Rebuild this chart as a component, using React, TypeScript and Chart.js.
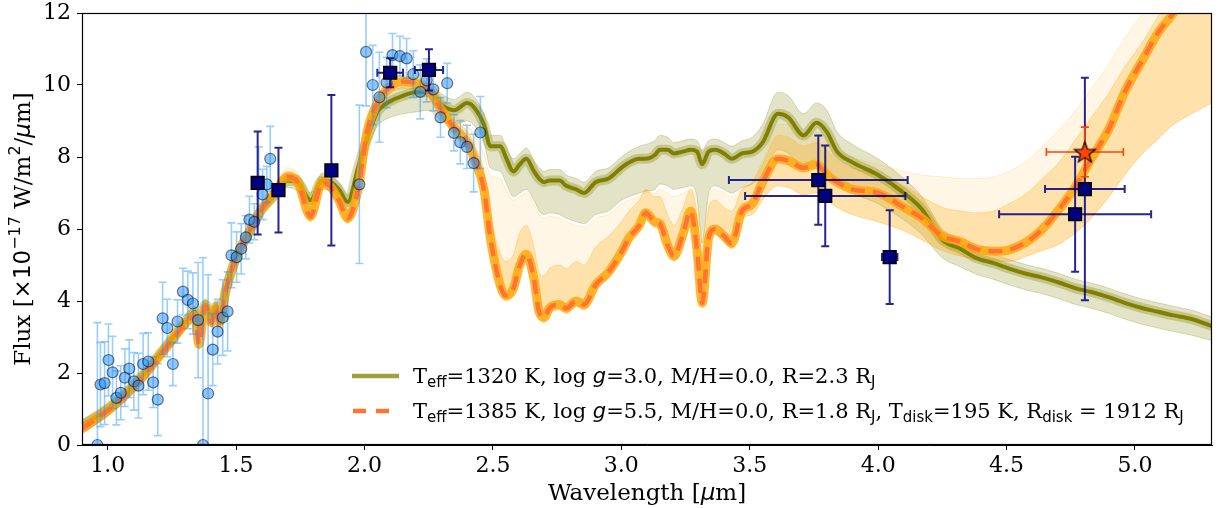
import React, { useEffect, useRef } from 'react';
import { Chart, registerables } from 'chart.js';

Chart.register(...registerables);

// ---- model spectra (wavelength grid in micron) ----
const wavelength = [
  0.90, 0.95, 1.00, 1.05, 1.10, 1.15, 1.20, 1.25, 1.30, 1.34,
  1.355, 1.38, 1.405, 1.42, 1.435, 1.46, 1.50, 1.55, 1.60, 1.65,
  1.70, 1.74, 1.79, 1.835, 1.87, 1.90, 1.935, 1.975, 2.01, 2.05,
  2.10, 2.15, 2.20, 2.25, 2.30, 2.35, 2.40, 2.43, 2.465, 2.49,
  2.53, 2.55, 2.58, 2.605, 2.63, 2.66, 2.68, 2.70, 2.72, 2.76,
  2.785, 2.825, 2.855, 2.90, 2.95, 3.00, 3.03, 3.07, 3.095, 3.13,
  3.15, 3.18, 3.205, 3.24, 3.27, 3.295, 3.315, 3.34, 3.365, 3.40,
  3.43, 3.47, 3.51, 3.55, 3.61, 3.65, 3.71, 3.76, 3.80, 3.84,
  3.90, 4.00, 4.10, 4.17, 4.25, 4.32, 4.38, 4.45, 4.51, 4.58,
  4.64, 4.71, 4.77, 4.83, 4.90, 4.96, 5.03, 5.09, 5.15, 5.22,
  5.30,
];

// Teff=1320 K best fit (olive)
const oliveModel = [
  0.55, 0.75, 1.00, 1.30, 1.65, 2.05, 2.50, 2.95, 3.40, 3.70,
  3.30, 3.90, 3.55, 3.85, 3.55, 4.30, 5.20, 5.90, 6.55, 6.95,
  7.35, 7.30, 6.80, 7.35, 7.30, 7.10, 6.75, 7.70, 8.50, 9.25,
  9.55, 9.70, 9.80, 9.80, 9.45, 9.30, 9.50, 9.35, 8.90, 8.30,
  8.30, 8.00, 7.60, 7.80, 7.95, 7.60, 7.40, 7.30, 7.35, 7.35,
  7.20, 7.10, 7.00, 7.30, 7.40, 7.70, 7.85, 7.95, 7.95, 8.05,
  8.20, 8.20, 8.10, 8.15, 8.20, 8.15, 7.80, 8.15, 8.20, 8.10,
  7.95, 8.10, 8.15, 8.40, 9.20, 9.10, 8.60, 8.95, 8.70, 8.15,
  7.85, 7.50, 7.00, 6.55, 5.70, 5.45, 5.20, 5.05, 4.90, 4.75,
  4.65, 4.50, 4.35, 4.25, 4.10, 3.95, 3.80, 3.70, 3.60, 3.50,
  3.30,
];
const oliveHi = [
  0.70, 0.90, 1.15, 1.45, 1.80, 2.20, 2.65, 3.10, 3.55, 3.85,
  3.55, 4.05, 3.75, 4.00, 3.75, 4.45, 5.35, 6.05, 6.70, 7.10,
  7.50, 7.50, 7.00, 7.55, 7.50, 7.30, 6.95, 7.90, 8.70, 9.45,
  9.80, 9.95, 10.05, 10.05, 9.75, 9.60, 9.80, 9.65, 9.20, 8.60,
  8.60, 8.30, 7.95, 8.10, 8.25, 7.90, 7.70, 7.60, 7.65, 7.65,
  7.50, 7.40, 7.30, 7.60, 7.70, 8.00, 8.15, 8.30, 8.35, 8.45,
  8.60, 8.55, 8.40, 8.45, 8.50, 8.45, 8.20, 8.45, 8.50, 8.40,
  8.30, 8.45, 8.55, 8.90, 9.80, 9.70, 9.20, 9.50, 9.30, 8.70,
  8.35, 7.95, 7.40, 6.90, 6.00, 5.70, 5.45, 5.30, 5.15, 5.00,
  4.90, 4.75, 4.60, 4.50, 4.35, 4.20, 4.05, 3.95, 3.85, 3.75,
  3.55,
];
const oliveLo = [
  0.35, 0.55, 0.80, 1.10, 1.45, 1.85, 2.30, 2.75, 3.20, 3.45,
  3.00, 3.70, 3.30, 3.65, 3.30, 4.10, 5.00, 5.70, 6.35, 6.75,
  7.15, 7.05, 6.55, 7.10, 7.05, 6.85, 6.50, 7.40, 8.20, 8.85,
  9.10, 9.20, 9.25, 9.30, 9.00, 8.90, 9.00, 8.85, 8.40, 7.70,
  7.60, 7.30, 6.90, 7.00, 7.10, 6.80, 6.50, 6.40, 6.45, 6.40,
  6.30, 6.20, 6.15, 6.40, 6.50, 6.80, 6.90, 7.00, 7.05, 7.10,
  7.25, 7.20, 7.10, 7.15, 7.20, 6.90, 5.60, 7.00, 7.20, 7.10,
  7.00, 7.15, 7.25, 7.50, 8.20, 8.10, 7.70, 7.95, 7.70, 7.30,
  7.00, 6.70, 6.25, 5.85, 5.20, 4.95, 4.75, 4.60, 4.45, 4.30,
  4.20, 4.05, 3.90, 3.80, 3.65, 3.50, 3.35, 3.25, 3.15, 3.05,
  2.90,
];

// Teff=1385 K + disk best fit (orange dashed)
const diskModel = [
  0.45, 0.70, 0.95, 1.25, 1.60, 2.00, 2.45, 2.90, 3.35, 3.60,
  2.80, 3.85, 3.40, 3.80, 3.40, 4.30, 5.20, 5.90, 6.55, 7.00,
  7.45, 7.30, 6.35, 7.30, 7.15, 6.80, 6.30, 7.10, 8.70, 9.50,
  9.95, 10.10, 10.05, 9.85, 9.30, 8.80, 8.40, 7.90, 7.10, 5.75,
  4.40, 4.15, 4.35, 5.00, 5.30, 4.60, 3.70, 3.55, 3.80, 3.90,
  3.80, 4.00, 3.90, 4.45, 4.80, 5.35, 5.75, 6.10, 6.45, 6.20,
  6.15, 5.55, 5.25, 5.85, 6.50, 5.40, 3.95, 5.75, 6.00, 5.80,
  5.60, 6.50, 6.70, 7.30, 7.95, 7.90, 7.70, 7.80, 7.50, 7.30,
  7.10, 7.00, 6.60, 6.30, 5.80, 5.65, 5.45, 5.38, 5.42, 5.65,
  6.00, 6.60, 7.20, 7.95, 8.80, 9.80, 10.70, 11.45, 12.00, 12.80,
  13.60,
];
const diskLo = [
  0.30, 0.55, 0.80, 1.10, 1.45, 1.85, 2.30, 2.75, 3.20, 3.45,
  2.65, 3.70, 3.25, 3.65, 3.25, 4.15, 5.05, 5.75, 6.40, 6.85,
  7.30, 7.15, 6.20, 7.15, 7.00, 6.65, 6.15, 6.95, 8.50, 9.30,
  9.75, 9.90, 9.85, 9.65, 9.10, 8.60, 8.20, 7.70, 6.90, 5.55,
  4.25, 4.00, 4.20, 4.85, 5.15, 4.45, 3.55, 3.40, 3.65, 3.75,
  3.65, 3.85, 3.75, 4.30, 4.65, 5.20, 5.60, 5.95, 6.30, 6.05,
  6.00, 5.40, 5.10, 5.70, 6.35, 5.25, 3.80, 5.60, 5.85, 5.65,
  5.45, 6.30, 6.40, 6.80, 7.20, 7.15, 6.95, 7.00, 6.80, 6.60,
  6.40, 6.20, 5.95, 5.70, 5.40, 5.25, 5.15, 5.10, 5.10, 5.25,
  5.40, 5.60, 5.90, 6.30, 6.90, 7.50, 8.10, 8.50, 8.90, 9.20,
  9.50,
];
const diskMid = [
  0.60, 0.85, 1.10, 1.40, 1.75, 2.15, 2.60, 3.05, 3.50, 3.75,
  3.00, 4.00, 3.60, 3.95, 3.60, 4.45, 5.35, 6.05, 6.70, 7.15,
  7.60, 7.45, 6.55, 7.45, 7.30, 7.00, 6.50, 7.30, 8.90, 9.70,
  10.15, 10.25, 10.20, 10.05, 9.55, 9.05, 8.70, 8.30, 7.60, 6.40,
  5.30, 5.10, 5.30, 5.90, 6.10, 5.50, 4.80, 4.70, 4.90, 5.00,
  4.90, 5.10, 5.00, 5.50, 5.80, 6.20, 6.50, 6.80, 7.10, 6.90,
  6.90, 6.40, 6.10, 6.60, 7.10, 6.40, 5.00, 6.60, 6.80, 6.60,
  6.50, 7.10, 7.30, 7.80, 8.60, 8.55, 8.30, 8.40, 8.20, 7.90,
  7.70, 7.50, 7.20, 6.90, 6.60, 6.50, 6.45, 6.50, 6.70, 7.00,
  7.40, 7.90, 8.50, 9.10, 9.80, 10.50, 11.20, 11.90, 12.50, 13.20,
  14.00,
];
const diskHi = [
  0.70, 0.95, 1.20, 1.50, 1.85, 2.25, 2.70, 3.15, 3.60, 3.85,
  3.20, 4.10, 3.70, 4.05, 3.70, 4.55, 5.45, 6.15, 6.80, 7.25,
  7.70, 7.55, 6.70, 7.55, 7.40, 7.10, 6.65, 7.45, 9.00, 9.80,
  10.25, 10.35, 10.30, 10.15, 9.70, 9.20, 8.90, 8.60, 8.10, 7.50,
  7.40, 7.10, 6.80, 6.90, 7.00, 6.70, 6.40, 6.30, 6.35, 6.30,
  6.20, 6.10, 6.05, 6.30, 6.40, 6.70, 6.80, 6.90, 7.00, 7.00,
  7.10, 7.00, 6.90, 7.00, 7.10, 6.80, 5.60, 6.90, 7.10, 7.00,
  6.90, 7.10, 7.30, 7.90, 8.90, 8.90, 8.50, 8.70, 8.50, 8.20,
  8.00, 7.80, 7.60, 7.50, 7.45, 7.40, 7.40, 7.45, 7.60, 7.90,
  8.30, 8.80, 9.30, 9.90, 10.60, 11.30, 12.00, 12.60, 13.20, 13.80,
  14.50,
];

// ---- observed spectrum ----
const specWl = [
  0.960, 0.972, 0.988, 1.003, 1.019, 1.034, 1.051, 1.067, 1.084, 1.102,
  1.120, 1.138, 1.158, 1.177, 1.195, 1.214, 1.232, 1.254, 1.272, 1.293,
  1.312, 1.332, 1.352, 1.371, 1.391, 1.409, 1.428, 1.448, 1.467, 1.482,
  1.502, 1.520, 1.538, 1.552, 1.571, 1.588, 1.603, 1.620, 1.633, 1.980,
  2.006, 2.032, 2.058, 2.086, 2.109, 2.138, 2.164, 2.190, 2.217, 2.242,
  2.268, 2.296, 2.322, 2.348, 2.373, 2.399, 2.425, 2.451,
];
const specFlux = [
  0.00, 1.68, 1.72, 2.36, 2.02, 1.31, 1.45, 1.87, 2.12, 1.77,
  1.65, 2.25, 2.32, 1.74, 1.26, 3.52, 3.25, 2.25, 3.43, 4.26,
  4.03, 3.93, 3.47, 0.00, 1.43, 2.65, 3.15, 3.54, 3.71, 5.27,
  5.22, 5.45, 5.77, 6.26, 6.20, 7.31, 6.96, 7.24, 7.95, 7.24,
  10.92, 10.00, 9.66, 10.07, 10.83, 10.80, 10.74, 10.30, 9.81, 10.13,
  9.88, 9.10, 10.05, 8.67, 8.41, 8.28, 7.83, 8.68,
];
const specErr = [
  3.40, 1.17, 1.15, 1.00, 1.00, 0.75, 0.75, 0.80, 0.80, 0.80,
  0.90, 0.85, 0.80, 0.70, 1.00, 1.00, 0.80, 0.60, 0.60, 0.65,
  0.80, 0.85, 1.60, 5.20, 3.30, 1.00, 0.90, 1.05, 1.10, 0.90,
  0.70, 0.70, 0.60, 0.65, 0.50, 0.97, 0.70, 0.50, 0.90, 2.20,
  1.50, 1.10, 1.25, 0.70, 0.60, 0.55, 0.55, 0.65, 0.75, 0.60,
  0.60, 0.55, 0.55, 0.50, 0.60, 0.60, 0.80, 1.00,
];

// ---- photometry ----
const photWl = [1.584, 1.665, 1.871, 2.100, 2.251, 3.767, 3.794, 4.045, 4.767, 4.805];
const photFlux = [7.28, 7.08, 7.63, 10.34, 10.42, 7.36, 6.92, 5.22, 6.41, 7.11];
const photErrY = [1.43, 1.18, 2.09, 0.40, 0.57, 1.24, 1.40, 1.30, 1.60, 3.09];
const photErrX = [0.015, 0.015, 0.015, 0.050, 0.055, 0.348, 0.312, 0.030, 0.296, 0.155];

const starWl = [4.805];
const starFlux = [8.14];
const starErrY = [0.69];
const starErrX = [0.15];

const xTicks = [1.0, 1.5, 2.0, 2.5, 3.0, 3.5, 4.0, 4.5, 5.0];
const yTicks = [0, 2, 4, 6, 8, 10, 12];

const SERIF = "'DejaVu Serif'";
const SANS = "'DejaVu Sans'";

type Seg = { t: string; f: string; dy?: number };

function drawRich(ctx: CanvasRenderingContext2D, segs: Seg[], x: number, y: number, measureOnly = false) {
  let cx = x;
  for (const s of segs) {
    ctx.font = s.f;
    if (!measureOnly) ctx.fillText(s.t, cx, y + (s.dy || 0));
    cx += ctx.measureText(s.t).width;
  }
  return cx - x;
}

function pts(xs: number[], ys: number[]) {
  return xs.map((x, i) => ({ x, y: ys[i] }));
}

function makeStar(size: number) {
  const c = document.createElement('canvas');
  c.width = size;
  c.height = size;
  const ctx = c.getContext('2d')!;
  const cx = size / 2, cy = size / 2 + 1;
  const R = size / 2 - 1.5, r = R * 0.42;
  ctx.beginPath();
  for (let i = 0; i < 10; i++) {
    const a = -Math.PI / 2 + (i * Math.PI) / 5;
    const rad = i % 2 === 0 ? R : r;
    ctx.lineTo(cx + rad * Math.cos(a), cy + rad * Math.sin(a));
  }
  ctx.closePath();
  ctx.fillStyle = '#ff4500';
  ctx.fill();
  ctx.lineWidth = 1.2;
  ctx.strokeStyle = '#000';
  ctx.stroke();
  return c;
}

const errorBarPlugin = {
  id: 'errorBars',
  beforeDatasetDraw(chart: any, args: any) {
    const ds = chart.data.datasets[args.index];
    const eb = ds.errorBars;
    if (!eb) return;
    const { ctx, chartArea } = chart;
    const xs = chart.scales.x, ys = chart.scales.y;
    ctx.save();
    ctx.beginPath();
    ctx.rect(chartArea.left, chartArea.top, chartArea.right - chartArea.left, chartArea.bottom - chartArea.top);
    ctx.clip();
    ctx.strokeStyle = eb.color;
    ctx.lineWidth = eb.width;
    ds.data.forEach((p: any, i: number) => {
      const px = xs.getPixelForValue(p.x);
      const py = ys.getPixelForValue(p.y);
      const ey = eb.yErr[i];
      if (ey) {
        const t = ys.getPixelForValue(p.y + ey);
        const b = ys.getPixelForValue(p.y - ey);
        ctx.beginPath();
        ctx.moveTo(px, t); ctx.lineTo(px, b);
        ctx.moveTo(px - eb.cap, t); ctx.lineTo(px + eb.cap, t);
        ctx.moveTo(px - eb.cap, b); ctx.lineTo(px + eb.cap, b);
        ctx.stroke();
      }
      const ex = eb.xErr ? eb.xErr[i] : 0;
      if (ex) {
        const l = xs.getPixelForValue(p.x - ex);
        const r = xs.getPixelForValue(p.x + ex);
        ctx.beginPath();
        ctx.moveTo(l, py); ctx.lineTo(r, py);
        ctx.moveTo(l, py - eb.cap); ctx.lineTo(l, py + eb.cap);
        ctx.moveTo(r, py - eb.cap); ctx.lineTo(r, py + eb.cap);
        ctx.stroke();
      }
    });
    ctx.restore();
  },
};

const framePlugin = {
  id: 'frame',
  afterDatasetsDraw(chart: any) {
    const { ctx, chartArea } = chart;
    const l = Math.round(chartArea.left) + 0.5;
    const r = Math.round(chartArea.right) - 0.5;
    const t = Math.round(chartArea.top) + 0.5;
    const b = Math.round(chartArea.bottom) - 0.5;
    ctx.save();
    ctx.strokeStyle = '#000';
    ctx.lineWidth = 1.2;
    ctx.strokeRect(l, t, r - l, b - t);
    ctx.restore();
  },
};

const textPlugin = {
  id: 'texts',
  afterDraw(chart: any) {
    const { ctx, chartArea } = chart;
    ctx.save();
    ctx.fillStyle = '#000';
    ctx.textBaseline = 'alphabetic';

    const lg = `21px ${SERIF}`;
    const lsub = `15px ${SANS}`;
    const lit = `italic 21px ${SANS}`;

    // legend handles
    ctx.lineCap = 'butt';
    ctx.strokeStyle = 'rgba(128,128,0,0.75)';
    ctx.lineWidth = 4.5;
    ctx.beginPath(); ctx.moveTo(352, 376); ctx.lineTo(399, 376); ctx.stroke();
    ctx.strokeStyle = '#ff7434';
    ctx.setLineDash([13, 10]);
    ctx.beginPath(); ctx.moveTo(353, 411); ctx.lineTo(393, 411); ctx.stroke();
    ctx.setLineDash([]);

    const row1: Seg[] = [
      { t: 'T', f: lg }, { t: 'eff', f: lsub, dy: 4 }, { t: '=1320 K, log ', f: lg },
      { t: 'g', f: lit }, { t: '=3.0, M/H=0.0, R=2.3 R', f: lg }, { t: 'J', f: lsub, dy: 4 },
    ];
    const row2: Seg[] = [
      { t: 'T', f: lg }, { t: 'eff', f: lsub, dy: 4 }, { t: '=1385 K, log ', f: lg },
      { t: 'g', f: lit }, { t: '=5.5, M/H=0.0, R=1.8 R', f: lg }, { t: 'J', f: lsub, dy: 4 },
      { t: ', T', f: lg }, { t: 'disk', f: lsub, dy: 4 }, { t: '=195 K, R', f: lg },
      { t: 'disk', f: lsub, dy: 4 }, { t: ' = 1912 R', f: lg }, { t: 'J', f: lsub, dy: 4 },
    ];
    drawRich(ctx, row1, 413, 383);
    drawRich(ctx, row2, 413, 418);

    const big = `23px ${SERIF}`;
    const sub = `16px ${SANS}`;
    const it = `italic 23px ${SANS}`;

    // x title
    const xt: Seg[] = [{ t: 'Wavelength [', f: big }, { t: 'μ', f: it }, { t: 'm]', f: big }];
    const xw = drawRich(ctx, xt, 0, 0, true);
    drawRich(ctx, xt, (chartArea.left + chartArea.right) / 2 - xw / 2, 500);

    // y title
    const yt: Seg[] = [
      { t: 'Flux [', f: big }, { t: '×10', f: `23px ${SANS}` }, { t: '−17', f: sub, dy: -10 },
      { t: ' W/m', f: big }, { t: '2', f: sub, dy: -10 }, { t: '/', f: big },
      { t: 'μ', f: it }, { t: 'm]', f: big },
    ];
    const yw = drawRich(ctx, yt, 0, 0, true);
    ctx.translate(30, (chartArea.top + chartArea.bottom) / 2);
    ctx.rotate(-Math.PI / 2);
    drawRich(ctx, yt, -yw / 2, 0);
    ctx.restore();
  },
};

export default function App() {
  const ref = useRef<HTMLCanvasElement>(null);

  useEffect(() => {
    const canvas = ref.current;
    if (!canvas) return;
    const star = makeStar(25);
    const band = (c: string) => ({ pointRadius: 0, borderWidth: 1, borderColor: c, cubicInterpolationMode: 'monotone' as const });

    const datasets: any[] = [
      { label: 'oliveLo', data: pts(wavelength, oliveLo), ...band('rgba(128,128,0,0.25)'), fill: false },
      { label: 'oliveHi', data: pts(wavelength, oliveHi), ...band('rgba(128,128,0,0.25)'), fill: { target: 0 }, backgroundColor: 'rgba(128,128,0,0.22)' },
      { label: 'diskLo', data: pts(wavelength, diskLo), ...band('rgba(255,165,0,0.35)'), fill: false },
      { label: 'diskMid', data: pts(wavelength, diskMid), ...band('rgba(255,165,0,0.3)'), fill: { target: 2 }, backgroundColor: 'rgba(255,165,0,0.33)' },
      { label: 'diskHi', data: pts(wavelength, diskHi), ...band('rgba(255,165,0,0.18)'), fill: { target: 3 }, backgroundColor: 'rgba(255,165,0,0.10)' },
      { label: 'oliveHalo', data: pts(wavelength, oliveModel), pointRadius: 0, borderWidth: 10, borderColor: 'rgba(128,128,0,0.3)', cubicInterpolationMode: 'monotone', fill: false },
      { label: 'oliveLine', data: pts(wavelength, oliveModel), pointRadius: 0, borderWidth: 4, borderColor: '#808000', cubicInterpolationMode: 'monotone', fill: false },
      { label: 'diskCore', data: pts(wavelength, diskModel), pointRadius: 0, borderWidth: 9, borderColor: 'rgba(255,165,0,0.8)', cubicInterpolationMode: 'monotone', fill: false },
      { label: 'diskDashed', data: pts(wavelength, diskModel), pointRadius: 0, borderWidth: 4.5, borderColor: '#ff7434', borderDash: [14, 8], cubicInterpolationMode: 'monotone', fill: false },
      {
        label: 'spectrum', data: pts(specWl, specFlux), showLine: false, pointStyle: 'circle', pointRadius: 5.5,
        backgroundColor: 'rgba(30,144,255,0.5)', borderColor: 'rgba(0,0,0,0.5)', borderWidth: 1.2,
        errorBars: { yErr: specErr, color: 'rgba(30,144,255,0.45)', width: 1.6, cap: 4 },
      },
      {
        label: 'photometry', data: pts(photWl, photFlux), showLine: false, pointStyle: 'rect', pointRadius: 9,
        backgroundColor: '#000080', borderColor: '#000', borderWidth: 1.5,
        errorBars: { yErr: photErrY, xErr: photErrX, color: 'rgba(0,0,128,0.85)', width: 2, cap: 4 },
      },
      {
        label: 'star', data: pts(starWl, starFlux), showLine: false, pointStyle: star, pointRadius: 12,
        errorBars: { yErr: starErrY, xErr: starErrX, color: '#ff4500', width: 1.6, cap: 4 },
      },
    ];
    datasets.forEach((d, i) => { d.order = 30 - i; });

    const tickFont = { family: SERIF, size: 22 };

    const chart = new Chart(canvas, {
      type: 'line',
      data: { datasets },
      plugins: [errorBarPlugin, framePlugin, textPlugin],
      options: {
        animation: false,
        responsive: false,
        events: [],
        layout: { padding: { left: 0, top: 10, right: 7, bottom: 0 } },
        plugins: { legend: { display: false }, tooltip: { enabled: false }, title: { display: false } },
        scales: {
          x: {
            type: 'linear',
            min: 0.9,
            max: 5.3,
            afterBuildTicks: (s: any) => { s.ticks = xTicks.map((v) => ({ value: v })); },
            afterFit: (s: any) => { s.height = 63; s.paddingLeft = 0; s.paddingRight = 0; },
            ticks: { font: tickFont, color: '#000', padding: 3, maxRotation: 0, autoSkip: false, callback: (v: any) => Number(v).toFixed(1) },
            grid: { display: true, drawOnChartArea: false, drawTicks: true, tickLength: 5, color: '#000', lineWidth: 1 },
            border: { display: true, color: '#000', width: 1 },
          },
          y: {
            type: 'linear',
            min: 0,
            max: 12,
            afterBuildTicks: (s: any) => { s.ticks = yTicks.map((v) => ({ value: v })); },
            afterFit: (s: any) => { s.width = 82; s.paddingTop = 0; s.paddingBottom = 0; },
            ticks: { font: tickFont, color: '#000', padding: 6, autoSkip: false, callback: (v: any) => String(v) },
            grid: { display: true, drawOnChartArea: false, drawTicks: true, tickLength: 5, color: '#000', lineWidth: 1 },
            border: { display: true, color: '#000', width: 1 },
          },
        },
      } as any,
    });
    return () => chart.destroy();
  }, []);

  return (
    <div style={{ position: 'fixed', left: 0, top: 0, width: 1225, height: 508, background: '#fff' }}>
      <canvas ref={ref} width={1225} height={508} style={{ display: 'block' }} />
    </div>
  );
}
